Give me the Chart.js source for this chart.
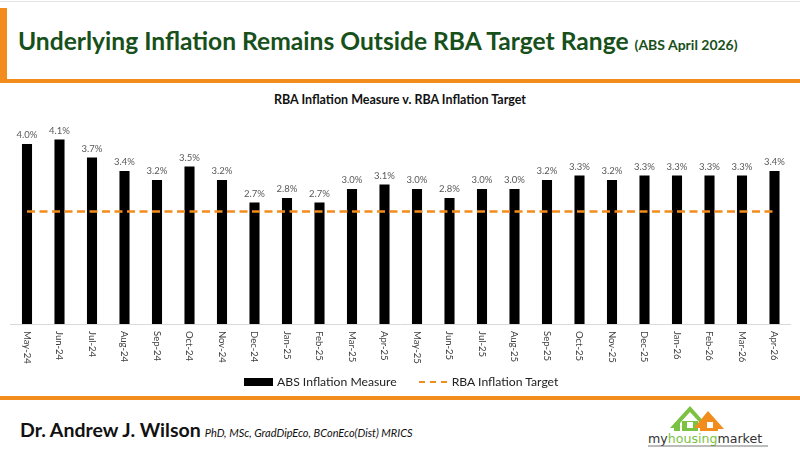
<!DOCTYPE html>
<html>
<head>
<meta charset="utf-8">
<script src="https://cdn.jsdelivr.net/npm/chart.js@4.4.0/dist/chart.umd.min.js"></script>
<style>
  html, body { margin: 0; padding: 0; background: #fff; }
  body { width: 800px; height: 454px; position: relative; overflow: hidden; font-family: Lato, "Open Sans", sans-serif; }
  .topline { position: absolute; left: 0; top: 1px; width: 800px; height: 1px; background: #e4e4e4; }
  .vbar { position: absolute; left: 0; top: 8px; width: 7px; height: 75px; background: #f28c1c; }
  .hbar { position: absolute; left: 0; top: 79px; width: 800px; height: 4px; background: #f28c1c; }
  .title { position: absolute; left: 18px; top: 26px; white-space: nowrap; color: #17501a; font-weight: 700; font-size: 24.6px; }
  .title small { font-size: 14px; font-weight: 700; }
  .ctitle { position: absolute; left: 0; width: 800px; top: 92px; text-align: center; font-weight: 700; font-size: 12.5px; color: #111; }
  #wrap { position: absolute; left: 0; top: 88px; width: 800px; height: 308px; }
  .legend { position: absolute; top: 373px; left: 244px; font-size: 12.2px; color: #222; white-space: nowrap; }
  .legend span { display: inline-block; vertical-align: middle; }
  .box { width: 29px; height: 8px; background: #000; margin-right: 4px; }
  .dash { width: 28px; height: 0; border-top: 2.5px dashed #f28c1c; margin: 0 5px 0 22px; }
  .fline { position: absolute; left: 0; top: 396px; width: 800px; height: 4px; background: #f28c1c; }
  .author { position: absolute; left: 20px; top: 418px; white-space: nowrap; color: #111; }
  .author b { font-size: 19.5px; }
  .author i { font-size: 11px; }
  .logo { position: absolute; left: 644px; top: 403px; }
</style>
</head>
<body>
<div class="topline"></div>
<div class="vbar"></div>
<div class="hbar"></div>
<div class="title">Underlying Inflation Remains Outside RBA Target Range <small>(ABS April 2026)</small></div>
<div class="ctitle">RBA Inflation Measure v. RBA Inflation Target</div>
<div id="wrap"><canvas id="chart" width="800" height="308"></canvas></div>
<div class="legend"><span class="box"></span><span>ABS Inflation Measure</span><span class="dash"></span><span>RBA Inflation Target</span></div>
<div class="fline"></div>
<div class="author"><b>Dr. Andrew J. Wilson</b> <i>PhD, MSc, GradDipEco, BConEco(Dist) MRICS</i></div>
<div class="logo">
  <svg width="128" height="46" viewBox="0 0 128 46">
    <polygon points="26,25 46,3 62,21 62,28 56,28 56,20 46,9 36,20 36,28 30,28 30,25" fill="#7cc242"/>
    <rect x="38" y="18" width="16" height="10" fill="#7cc242"/>
    <polygon points="50,25 64,8 80,26 74,26 74,28 56,28 56,25" fill="#f28c1c"/>
    <rect x="43" y="19" width="6" height="6" fill="#fff"/>
    <rect x="63" y="19" width="6" height="6" fill="#fff"/>
    <text x="4" y="40" font-family="DejaVu Sans, sans-serif" font-size="12.6" fill="#333">my<tspan fill="#7cc242">housing</tspan>market</text>
    <line x1="4" y1="43" x2="124" y2="43" stroke="#555" stroke-width="0.8"/>
  </svg>
</div>
<script>
const months = ['May-24','Jun-24','Jul-24','Aug-24','Sep-24','Oct-24','Nov-24','Dec-24','Jan-25','Feb-25','Mar-25','Apr-25',
  'May-25','Jun-25','Jul-25','Aug-25','Sep-25','Oct-25','Nov-25','Dec-25','Jan-26','Feb-26','Mar-26','Apr-26'];
const absMeasure = [4.0, 4.1, 3.7, 3.4, 3.2, 3.5, 3.2, 2.7, 2.8, 2.7, 3.0, 3.1,
  3.0, 2.8, 3.0, 3.0, 3.2, 3.3, 3.2, 3.3, 3.3, 3.3, 3.3, 3.4];
const rbaTarget = [2.5, 2.5, 2.5, 2.5, 2.5, 2.5, 2.5, 2.5, 2.5, 2.5, 2.5, 2.5,
  2.5, 2.5, 2.5, 2.5, 2.5, 2.5, 2.5, 2.5, 2.5, 2.5, 2.5, 2.5];

// value labels above bars and vertical month labels under the axis
const extras = {
  id: 'extras',
  afterDatasetsDraw(chart) {
    const ctx = chart.ctx;
    const meta = chart.getDatasetMeta(1);
    ctx.save();
    ctx.fillStyle = '#595959';
    ctx.font = '9.5px Lato, "Open Sans", sans-serif';
    ctx.textAlign = 'center';
    ctx.textBaseline = 'bottom';
    meta.data.forEach((bar, i) => {
      ctx.fillText(absMeasure[i].toFixed(1) + '%', bar.x, bar.y - 4);
    });
    const xs = chart.scales.x;
    ctx.fillStyle = '#404040';
    ctx.textAlign = 'left';
    ctx.textBaseline = 'middle';
    months.forEach((m, i) => {
      const x = xs.getPixelForTick(i);
      ctx.save();
      ctx.translate(x, chart.chartArea.bottom + 7);
      ctx.rotate(Math.PI / 2);
      ctx.fillText(m, 0, 0);
      ctx.restore();
    });
    ctx.restore();
  }
};

new Chart(document.getElementById('chart'), {
  data: {
    labels: months,
    datasets: [
      {
        type: 'line',
        label: 'RBA Inflation Target',
        data: rbaTarget,
        borderColor: '#f28c1c',
        borderWidth: 2.5,
        borderDash: [8, 4.5],
        pointRadius: 0,
        fill: false,
        order: 0
      },
      {
        type: 'bar',
        label: 'ABS Inflation Measure',
        data: absMeasure,
        backgroundColor: '#000',
        barPercentage: 0.62,
        categoryPercentage: 0.5,
        order: 1
      }
    ]
  },
  options: {
    responsive: false,
    animation: false,
    layout: { padding: { left: 10.75, right: 9.25, top: 33.5, bottom: 72 } },
    plugins: { legend: { display: false }, tooltip: { enabled: false } },
    scales: {
      x: {
        grid: { display: false, drawTicks: false },
        border: { display: true, color: '#d9d9d9', width: 1 },
        ticks: { display: false }
      },
      y: { display: false, min: 0, max: 4.5 }
    }
  },
  plugins: [extras]
});
</script>
</body>
</html>
